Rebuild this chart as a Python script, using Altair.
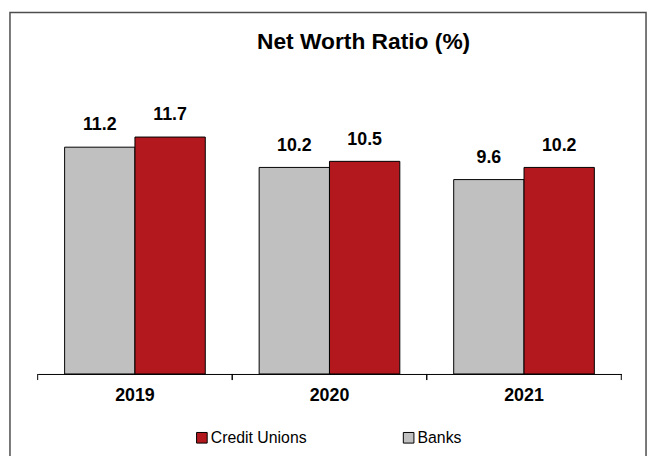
import altair as alt
import pandas as pd

years = ["2019", "2020", "2021"]
banks = [11.2, 10.2, 9.6]
credit_unions = [11.7, 10.5, 10.2]
series_order = ["Banks", "Credit Unions"]
legend_order = ["Credit Unions", "Banks"]
legend_colors = ["#B2181E", "#C0C0C0"]

rows = []
for i, yr in enumerate(years):
    rows.append({"year": yr, "series": "Banks", "value": banks[i], "label": f"{banks[i]:.1f}"})
    rows.append({"year": yr, "series": "Credit Unions", "value": credit_unions[i], "label": f"{credit_unions[i]:.1f}"})
df = pd.DataFrame(rows)
ticks_df = pd.DataFrame({"year": years})

W, H = 643, 452
FONT = "Liberation Sans, Arial, sans-serif"

x_scale = alt.Scale(domain=years, range=[28, 618], paddingInner=0, paddingOuter=0)
y_scale = alt.Scale(domain=[0, 14], range=[365.5, 78.9], nice=False, zero=True)
off_scale = alt.Scale(domain=series_order, paddingInner=0, paddingOuter=0.383)

x_axis = alt.Axis(title=None, ticks=False, domain=True, domainColor="black", domainWidth=1,
                  labelFont=FONT, labelFontSize=18, labelFontWeight="bold", labelColor="black",
                  labelPadding=13, offset=-(H - 365.5), labelAngle=0, grid=False)

base = alt.Chart(df).encode(
    x=alt.X("year:N", scale=x_scale, axis=x_axis, sort=years),
    xOffset=alt.XOffset("series:N", scale=off_scale, sort=series_order),
    y=alt.Y("value:Q", scale=y_scale, axis=None),
)

bars = base.mark_bar(stroke="black", strokeWidth=1).encode(
    color=alt.Color("series:N", scale=alt.Scale(domain=legend_order, range=legend_colors),
                    legend=alt.Legend(title=None, orient="none", legendX=186, legendY=422,
                                      direction="horizontal", symbolType="square", symbolSize=115,
                                      symbolStrokeColor="black", symbolStrokeWidth=1,
                                      symbolOpacity=1, labelFont=FONT, labelFontSize=16,
                                      labelColor="black", labelOffset=1, columnPadding=95,
                                      padding=0))
)

labels = base.mark_text(font=FONT, fontSize=18, fontWeight="bold", color="black",
                        baseline="alphabetic", dy=-17).encode(text="label:N")

tick_start = alt.Chart(ticks_df).mark_rule(color="black", strokeWidth=1).encode(
    x=alt.X("year:N", bandPosition=0, sort=years),
    y=alt.datum(0),
    y2=alt.datum(-0.3),
)
tick_end = alt.Chart(ticks_df).mark_rule(color="black", strokeWidth=1).encode(
    x=alt.X("year:N", bandPosition=1, sort=years),
    y=alt.datum(0),
    y2=alt.datum(-0.3),
)

chart = alt.layer(bars, labels, tick_start, tick_end).properties(
    width=W, height=H,
    padding={"left": 2, "top": 2, "right": 2, "bottom": 0},
    autosize="none",
    title=alt.TitleParams("Net Worth Ratio (%)", font=FONT, fontSize=23, fontWeight="bold",
                          color="black", anchor="middle", dx=36, offset=-60,
                          baseline="alphabetic"),
).configure_view(stroke="#4d4d4d", strokeWidth=1.5, fill="white")

chart.save("out.html", embed_options={"renderer": "svg", "actions": False})
